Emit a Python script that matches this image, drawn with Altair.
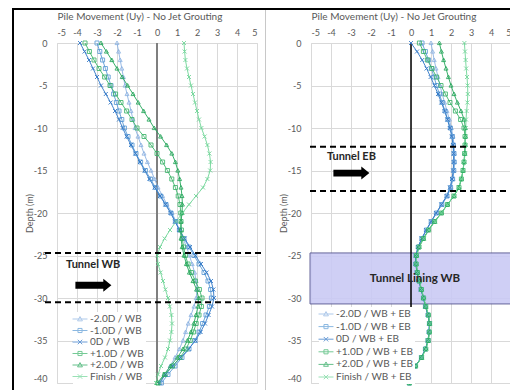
import altair as alt
import pandas as pd

# ---------------- data ----------------
DEPTH = [-i for i in range(41)]
X_TICKS = [-5, -4, -3, -2, -1, 0, 1, 2, 3, 4, 5]
Y_TICKS = [0, -5, -10, -15, -20, -25, -30, -35, -40]

LEFT_NAMES = ["-2.0D / WB", "-1.0D / WB", "0D / WB", "+1.0D / WB", "+2.0D / WB", "Finish / WB"]
RIGHT_NAMES = ["-2.0D / WB + EB", "-1.0D / WB + EB", "0D / WB + EB",
               "+1.0D / WB + EB", "+2.0D / WB + EB", "Finish / WB + EB"]

L_M2 = [-2.00, -1.92, -1.84, -1.76, -1.68, -1.60, -1.50, -1.40, -1.30, -1.20, -1.10,
        -0.95, -0.80, -0.65, -0.48, -0.30, -0.12, 0.05, 0.28, 0.50, 0.75,
        0.95, 1.12, 1.30, 1.48, 1.62, 1.76, 1.88, 1.96, 2.00, 1.96,
        1.85, 1.70, 1.56, 1.43, 1.30, 1.12, 0.90, 0.66, 0.40, 0.15]
L_M1 = [-3.00, -2.86, -2.72, -2.58, -2.44, -2.30, -2.17, -2.03, -1.90, -1.76, -1.63,
        -1.45, -1.25, -1.05, -0.82, -0.58, -0.32, -0.08, 0.18, 0.45, 0.70,
        0.92, 1.12, 1.35, 1.60, 1.85, 2.10, 2.35, 2.55, 2.68, 2.72,
        2.62, 2.45, 2.28, 2.10, 1.90, 1.60, 1.25, 0.90, 0.55, 0.22]
L_0 = [-3.85, -3.62, -3.40, -3.20, -3.00, -2.80, -2.56, -2.32, -2.10, -1.90, -1.72,
       -1.52, -1.30, -1.08, -0.85, -0.62, -0.38, -0.12, 0.15, 0.42, 0.68,
       0.90, 1.12, 1.38, 1.65, 1.92, 2.20, 2.48, 2.70, 2.82, 2.85,
       2.75, 2.58, 2.40, 2.18, 1.92, 1.58, 1.18, 0.78, 0.42, 0.12]
L_P1 = [-3.60, -3.38, -3.15, -2.90, -2.62, -2.35, -2.07, -1.80, -1.52, -1.25, -1.00,
        -0.65, -0.30, 0.00, 0.28, 0.52, 0.74, 0.92, 1.06, 1.15, 1.19,
        1.20, 1.22, 1.26, 1.33, 1.42, 1.55, 1.72, 1.92, 2.12, 2.25,
        2.22, 2.10, 1.96, 1.82, 1.66, 1.45, 1.15, 0.78, 0.40, 0.05]
L_P2 = [-2.80, -2.53, -2.26, -2.00, -1.74, -1.47, -1.20, -0.94, -0.67, -0.40, -0.14,
        0.18, 0.48, 0.74, 0.92, 1.04, 1.13, 1.20, 1.25, 1.27, 1.25,
        1.20, 1.18, 1.20, 1.26, 1.35, 1.47, 1.62, 1.80, 1.98, 2.08,
        2.05, 1.95, 1.84, 1.70, 1.52, 1.30, 1.02, 0.68, 0.35, 0.02]
L_FIN = [1.35, 1.38, 1.42, 1.50, 1.60, 1.70, 1.80, 1.90, 2.00, 2.10, 2.22,
         2.38, 2.52, 2.62, 2.68, 2.66, 2.52, 2.30, 1.95, 1.60, 1.27,
         0.95, 0.65, 0.38, 0.15, 0.02, 0.05, 0.18, 0.30, 0.42, 0.55,
         0.64, 0.72, 0.75, 0.72, 0.65, 0.55, 0.40, 0.20, 0.05, -0.05]

R_M2 = [1.00, 1.08, 1.16, 1.25, 1.35, 1.45, 1.56, 1.68, 1.80, 1.92, 2.02,
        2.10, 2.15, 2.17, 2.17, 2.15, 2.10, 2.00, 1.82, 1.55, 1.28,
        1.02, 0.78, 0.55, 0.36, 0.25, 0.24, 0.30, 0.40, 0.50, 0.62,
        0.72, 0.85, 0.92, 0.90, 0.85, 0.72, 0.52, 0.22, 0.05, -0.08]
R_M1 = [0.55, 0.72, 0.88, 1.02, 1.15, 1.28, 1.42, 1.56, 1.70, 1.84, 1.97,
        2.07, 2.12, 2.15, 2.16, 2.14, 2.08, 1.98, 1.80, 1.54, 1.27,
        1.01, 0.77, 0.54, 0.36, 0.25, 0.24, 0.30, 0.40, 0.50, 0.62,
        0.72, 0.85, 0.92, 0.90, 0.85, 0.72, 0.52, 0.22, 0.05, -0.08]
R_0 = [0.00, 0.30, 0.56, 0.78, 0.98, 1.17, 1.35, 1.52, 1.68, 1.82, 1.94,
       2.04, 2.10, 2.13, 2.13, 2.11, 2.05, 1.95, 1.78, 1.52, 1.26,
       1.00, 0.76, 0.53, 0.35, 0.24, 0.24, 0.30, 0.40, 0.50, 0.62,
       0.72, 0.85, 0.92, 0.90, 0.85, 0.72, 0.52, 0.22, 0.05, -0.08]
R_P1 = [0.42, 0.62, 0.82, 1.05, 1.28, 1.50, 1.72, 1.95, 2.22, 2.48, 2.65,
        2.70, 2.70, 2.68, 2.65, 2.60, 2.52, 2.40, 2.15, 1.82, 1.52,
        1.18, 0.88, 0.62, 0.40, 0.27, 0.26, 0.32, 0.42, 0.52, 0.63,
        0.74, 0.87, 0.93, 0.92, 0.86, 0.74, 0.53, 0.23, 0.06, -0.08]
R_P2 = [1.42, 1.52, 1.63, 1.75, 1.87, 2.00, 2.15, 2.32, 2.50, 2.66, 2.72,
        2.72, 2.71, 2.69, 2.65, 2.60, 2.52, 2.40, 2.15, 1.82, 1.52,
        1.18, 0.88, 0.62, 0.40, 0.27, 0.26, 0.32, 0.42, 0.52, 0.63,
        0.74, 0.87, 0.93, 0.92, 0.86, 0.74, 0.53, 0.23, 0.06, -0.08]
R_FIN = [2.67, 2.70, 2.73, 2.76, 2.80, 2.83, 2.84, 2.82, 2.78, 2.75, 2.74,
         2.73, 2.72, 2.70, 2.66, 2.60, 2.52, 2.38, 2.14, 1.82, 1.52,
         1.20, 0.90, 0.64, 0.42, 0.28, 0.27, 0.33, 0.43, 0.53, 0.64,
         0.75, 0.88, 0.94, 0.93, 0.87, 0.75, 0.54, 0.24, 0.07, -0.07]

COLORS = ["#8DB3E2", "#5B9BD5", "#2E75C6", "#3CB46A", "#24A65A", "#6FD597"]

TITLE = "Pile Movement (Uy) - No Jet Grouting"

# annotations
LEFT_DASH_DEPTHS = [-24.7, -30.5]
LEFT_DASH_SPAN = [-5.6, 5.25]
RIGHT_DASH_DEPTHS = [-12.2, -17.4]
RIGHT_DASH_SPAN = [-5.05, 5.3]
LEFT_LABEL = ["Tunnel WB", -3.19, -26.1]
LEFT_ARROW = [-3.18, -28.5]
RIGHT_LABEL = ["Tunnel EB", -2.98, -13.45]
RIGHT_ARROW = [-2.98, -15.3]
LINING = ["Tunnel Lining WB", 0.2, -27.8]
LINING_BOX = [-5.05, 5.3, -24.7, -30.7]

MARK_PATHS = ["M0,-1L1,0.8H-1Z", "M-1,-1H1V1H-1Z", "M-1,-1L1,1M-1,1L1,-1",
              "M-1,-1H1V1H-1Z", "M0,-1L1,0.8H-1Z", "M-1,-1L1,1M-1,1L1,-1"]
LEG_PATHS = ["M-2,0H2M0,-0.65L0.65,0.5H-0.65Z",
             "M-2,0H2M-0.55,-0.55H0.55V0.55H-0.55Z",
             "M-2,0H2M-0.6,-0.6L0.6,0.6M-0.6,0.6L0.6,-0.6",
             "M-2,0H2M-0.55,-0.55H0.55V0.55H-0.55Z",
             "M-2,0H2M0,-0.65L0.65,0.5H-0.65Z",
             "M-2,0H2M-0.6,-0.6L0.6,0.6M-0.6,0.6L0.6,-0.6"]
ARROW_PATH = "M-1,-0.19L0.55,-0.19L0.55,-0.36L1,0L0.55,0.36L0.55,0.19L-1,0.19Z"

FONT = "Lato"
GREY = "#595959"


def long_df(names, series):
    rows = []
    for n, vals in zip(names, series):
        for i, (d, v) in enumerate(zip(DEPTH, vals)):
            rows.append({"series": n, "depth": d, "u": v, "idx": i})
    return pd.DataFrame(rows)


def X():
    return alt.X("u:Q", scale=alt.Scale(domain=[-5, 5], nice=False, zero=False),
                 axis=alt.Axis(orient="top", values=X_TICKS, grid=True, gridColor="#d9d9d9",
                               ticks=False, domain=False, labelPadding=6, labelFontSize=9,
                               labelColor=GREY, labelFont=FONT, title=None,
                               labelExpr="datum.value + ''"))


def Y():
    return alt.Y("depth:Q", scale=alt.Scale(domain=[-40, 0], nice=False, zero=False),
                 axis=alt.Axis(values=Y_TICKS, grid=True, gridColor="#d9d9d9", ticks=False,
                               domain=False, labelPadding=10, labelFontSize=9, labelColor=GREY,
                               labelFont=FONT, labelExpr="datum.value + ''",
                               labelBaseline={"condition": {"test": "datum.value == -40",
                                                            "value": "bottom"},
                                              "value": "middle"},
                               title="Depth (m)", titleFontSize=9, titleFontWeight="normal",
                               titleColor=GREY, titleFont=FONT, titleX=-28, titleY=170,
                               titleAngle=270, titleAlign="center", titleBaseline="middle"))


def panel(names, series, dash_depths, dash_span, label, arrow, legend_xy, row_pad,
          zero_color, zero_width, lining=None, frame=False):
    df = long_df(names, series)
    cscale = alt.Scale(domain=names, range=COLORS)
    base = alt.Chart(df)
    lines = base.mark_line(strokeWidth=1, opacity=0.9).encode(
        x=X(), y=Y(), color=alt.Color("series:N", scale=cscale, legend=None),
        detail="series:N", order="idx:Q")
    marks = base.mark_point(filled=False, size=16, strokeWidth=1, opacity=0.85).encode(
        x=X(), y=Y(), color=alt.Color("series:N", scale=cscale, legend=None),
        shape=alt.Shape("series:N", scale=alt.Scale(domain=names, range=MARK_PATHS), legend=None))
    leg = alt.Legend(orient="none", legendX=legend_xy[0], legendY=legend_xy[1], title=None,
                     fillColor="white", padding=2, labelFontSize=10, labelColor=GREY,
                     labelFont=FONT, symbolSize=56, symbolStrokeWidth=1, rowPadding=row_pad,
                     labelOffset=5)
    legend_layer = base.mark_point(filled=False, size=56, strokeWidth=1).encode(
        x=X(), y=Y(),
        color=alt.Color("series:N", scale=cscale, legend=leg),
        shape=alt.Shape("series:N", scale=alt.Scale(domain=names, range=LEG_PATHS), legend=leg)
    ).transform_filter("false")

    zero = alt.Chart(pd.DataFrame({"u": [0]})).mark_rule(
        color=zero_color, strokeWidth=zero_width).encode(x=X())
    dashes = alt.Chart(pd.DataFrame({"depth": dash_depths, "u": [dash_span[0]] * 2,
                                     "u2": [dash_span[1]] * 2})).mark_rule(
        color="black", strokeWidth=2, strokeDash=[6, 4]).encode(y=Y(), x=X(), x2="u2:Q")
    ltext = alt.Chart(pd.DataFrame({"t": [label[0]], "u": [label[1]], "depth": [label[2]]})).mark_text(
        font=FONT, fontSize=11, fontWeight="bold", color="#262626").encode(x=X(), y=Y(), text="t:N")
    arr = alt.Chart(pd.DataFrame({"u": [arrow[0]], "depth": [arrow[1]]})).mark_point(
        shape=ARROW_PATH, filled=True, size=1296, color="black", opacity=1).encode(x=X(), y=Y())
    title = alt.Chart(pd.DataFrame({"t": [TITLE]})).mark_text(
        font=FONT, fontSize=10, color=GREY).encode(x=alt.value(83), y=alt.value(-26), text="t:N")

    layers = []
    if lining is not None:
        box = alt.Chart(pd.DataFrame({"u": [lining[0]], "u2": [lining[1]], "depth": [lining[2]],
                                      "d2": [lining[3]]})).mark_rect(
            fill="#CACAF5", stroke="#55558F", strokeWidth=1, opacity=0.9).encode(
            x=X(), x2="u2:Q", y=Y(), y2="d2:Q")
        layers.append(box)
    layers += [zero, lines, marks, dashes, ltext, arr, title, legend_layer]
    if lining is not None:
        lt = alt.Chart(pd.DataFrame({"t": [LINING[0]], "u": [LINING[1]], "depth": [LINING[2]]})).mark_text(
            font=FONT, fontSize=11.5, fontWeight="bold", color="#262626").encode(x=X(), y=Y(), text="t:N")
        layers.append(lt)
    if frame:
        dummy = pd.DataFrame({"a": [0]})
        top = alt.Chart(dummy).mark_rule(color="black", strokeWidth=2).encode(
            x=alt.value(-45), x2=alt.value(470), y=alt.value(-34))
        left = alt.Chart(dummy).mark_rule(color="black", strokeWidth=2).encode(
            x=alt.value(-44), y=alt.value(-35), y2=alt.value(360))
        div = alt.Chart(dummy).mark_rule(color="#c8c8c8", strokeWidth=1).encode(
            x=alt.value(208.5), y=alt.value(-33), y2=alt.value(360))
        layers += [top, left, div]
    return alt.layer(*layers).resolve_scale(color="independent", shape="independent").properties(
        width=200, height=340)


left = panel(LEFT_NAMES, [L_M2, L_M1, L_0, L_P1, L_P2, L_FIN], LEFT_DASH_DEPTHS, LEFT_DASH_SPAN,
             LEFT_LABEL, LEFT_ARROW, (16, 269), 1.5, "#7f7f7f", 2, frame=True)
right = panel(RIGHT_NAMES, [R_M2, R_M1, R_0, R_P1, R_P2, R_FIN], RIGHT_DASH_DEPTHS, RIGHT_DASH_SPAN,
              RIGHT_LABEL, RIGHT_ARROW, (8, 264), 2.6, "#000000", 1.5, lining=LINING_BOX)

chart = alt.hconcat(left, right, spacing=54, bounds="flush").properties(
    autosize=alt.AutoSizeParams(type="none"),
    padding={"left": 49, "top": 35, "right": 453, "bottom": 339}
).configure_view(stroke=None).configure(font=FONT)

chart.save("out.html", embed_options={"renderer": "svg", "actions": False})
